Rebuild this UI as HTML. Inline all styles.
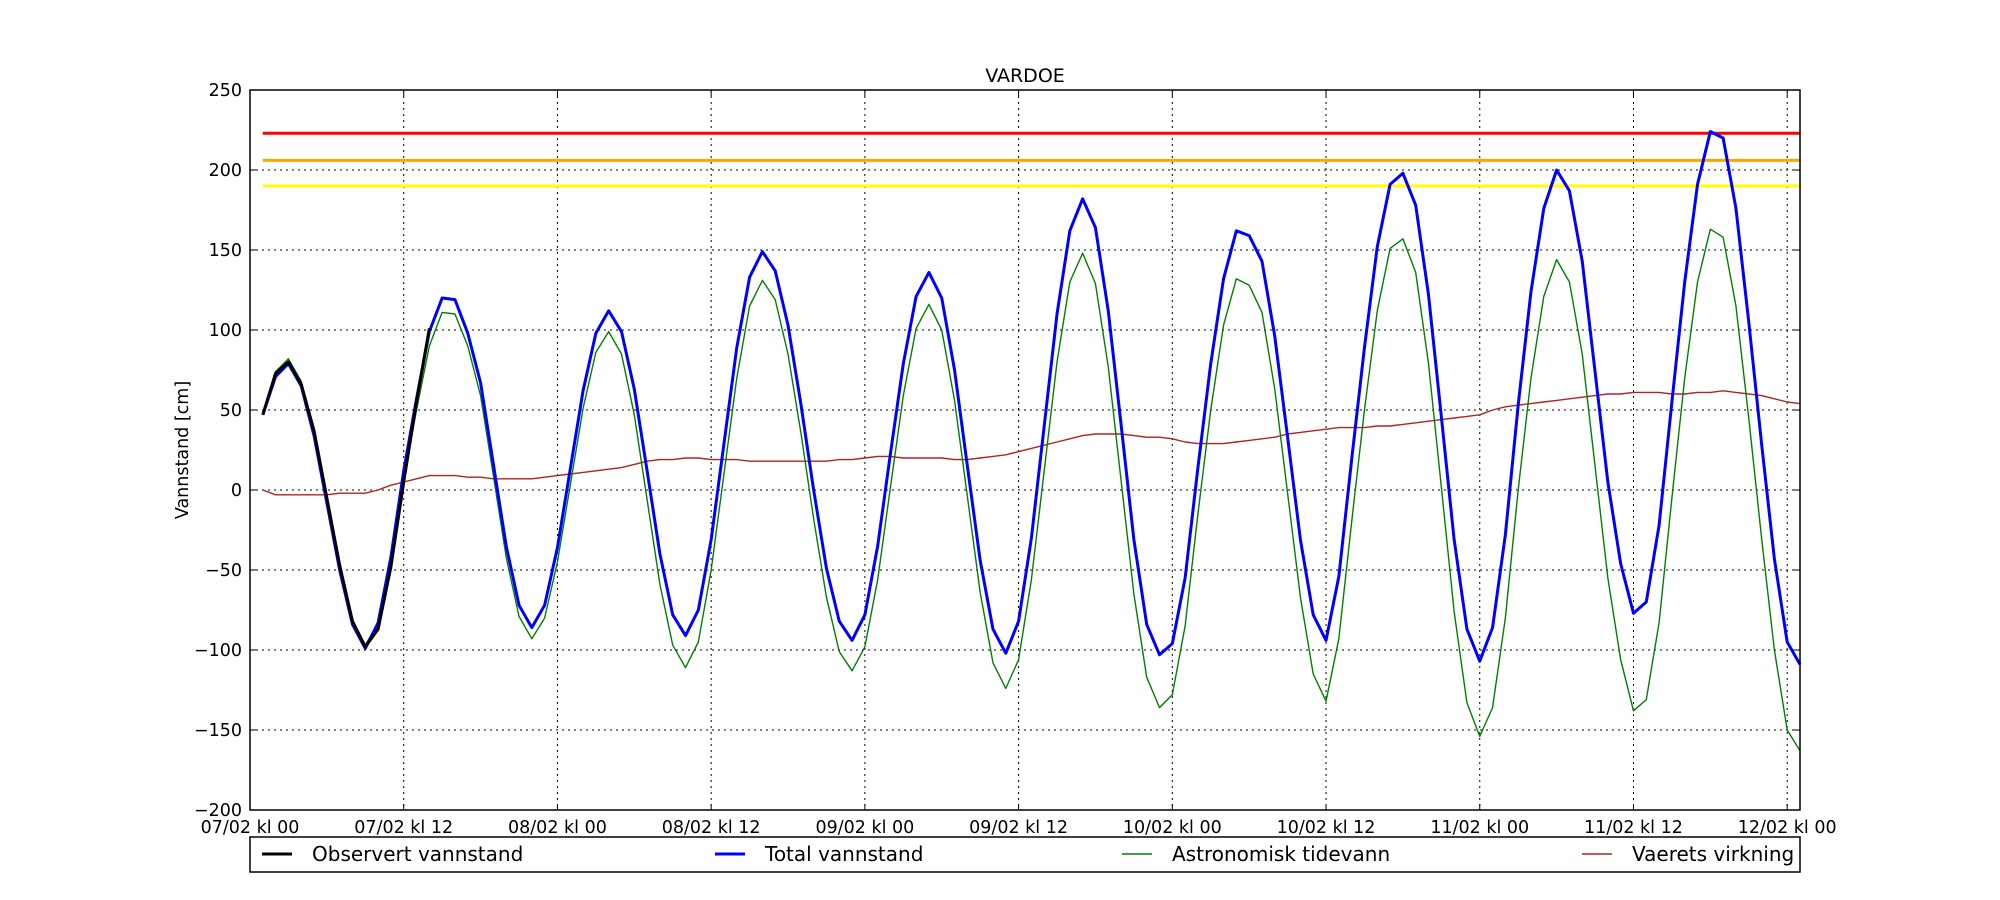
<!DOCTYPE html>
<html><head><meta charset="utf-8"><style>
body{margin:0;background:#fff;}
svg{display:block;font-family:"DejaVu Sans","Liberation Sans",sans-serif;}
</style></head><body>
<svg id="chart" width="2000" height="900" viewBox="0 0 2000 900"></svg>
<script>
const xTickLabels=["07/02 kl 00","07/02 kl 12","08/02 kl 00","08/02 kl 12","09/02 kl 00","09/02 kl 12","10/02 kl 00","10/02 kl 12","11/02 kl 00","11/02 kl 12","12/02 kl 00"];
const xTickHours=[0,12,24,36,48,60,72,84,96,108,120];
const yTicks=[250,200,150,100,50,0,-50,-100,-150,-200];
const thresholds=[223,206,190];
const thresholdColors=["#ff0000","#ffa500","#ffff00"];
const astro=[47,74,82,68,37,-5,-48,-82,-97,-83,-45,7,50,90,111,110,90,59,9,-42,-79,-93,-80,-45,3,51,86,99,85,47,-6,-59,-97,-111,-95,-50,10,70,115,131,119,85,36,-18,-67,-101,-113,-98,-56,2,59,101,116,100,56,-4,-64,-108,-124,-106,-56,12,80,130,148,129,77,6,-65,-117,-136,-128,-85,-15,50,103,132,128,111,63,-2,-67,-115,-132,-93,-20,50,112,151,157,136,79,2,-76,-133,-154,-136,-80,0,70,121,144,130,85,15,-55,-106,-138,-131,-83,-5,70,130,163,158,115,45,-30,-100,-150,-163];
const weather=[0,-3,-3,-3,-3,-3,-2,-2,-2,0,3,5,7,9,9,9,8,8,7,7,7,7,8,9,10,11,12,13,14,16,18,19,19,20,20,19,19,19,18,18,18,18,18,18,18,19,19,20,21,21,20,20,20,20,19,19,20,21,22,24,26,28,30,32,34,35,35,35,34,33,33,32,30,29,29,29,30,31,32,33,35,36,37,38,39,39,39,40,40,41,42,43,44,45,46,47,50,52,53,54,55,56,57,58,59,60,60,61,61,61,60,60,61,61,62,61,60,59,57,55,54];
const total=[47,71,79,65,34,-8,-50,-84,-99,-83,-42,12,57,99,120,119,98,67,16,-35,-72,-86,-72,-36,13,62,98,112,99,63,12,-40,-78,-91,-75,-31,29,89,133,149,137,103,54,0,-49,-82,-94,-78,-35,23,79,121,136,120,75,15,-44,-87,-102,-82,-30,40,110,162,182,164,112,41,-31,-84,-103,-96,-55,14,79,132,162,159,143,96,33,-31,-78,-94,-54,19,89,152,191,198,178,122,46,-31,-87,-107,-86,-28,53,124,176,200,187,143,74,5,-46,-77,-70,-22,55,130,191,224,220,176,105,29,-43,-95,-109];
const observed=[47,73,80,66,37,-5,-47,-82,-98,-87,-48,5,55,101];

const L=250,R=1800,T=90,B=810;
const X=h=>L+h*(R-L)/121;
const Y=v=>T+(250-v)*(B-T)/450;
const NS="http://www.w3.org/2000/svg";
const svg=document.getElementById('chart');
function mk(tag,attrs,parent){const e=document.createElementNS(NS,tag);for(const k in attrs)e.setAttribute(k,attrs[k]);(parent||svg).appendChild(e);return e;}

const grid=mk('g',{});


xTickHours.forEach((h,i)=>{
  const x=X(h);
  if(h>0){const g=mk('line',{x1:x,x2:x,y1:T,y2:B,stroke:'#000','stroke-width':1,'stroke-dasharray':'2,4'},grid);}
  mk('line',{x1:x,x2:x,y1:B,y2:B-6,stroke:'#000'},grid);
  mk('line',{x1:x,x2:x,y1:T,y2:T+6,stroke:'#000'},grid);
  const t=mk('text',{x:x,y:B+23,'text-anchor':'middle','font-size':17.5});
  
  
  t.textContent=xTickLabels[i];
});
yTicks.forEach(v=>{
  const y=Y(v);
  if(v<250&&v>-200)mk('line',{x1:L,x2:R,y1:y,y2:y,stroke:'#000','stroke-width':1,'stroke-dasharray':'2,4'},grid);
  mk('line',{x1:L,x2:L+6,y1:y,y2:y,stroke:'#000'},grid);
  mk('line',{x1:R,x2:R-6,y1:y,y2:y,stroke:'#000'},grid);
  const t=mk('text',{x:L-8,y:y+6,'text-anchor':'end','font-size':17.5});
  
  
  t.textContent=(v<0?'\u2212'+(-v):v);
});
thresholds.forEach((v,i)=>{
  const l=mk('line',{x1:X(1),x2:R,y1:Y(v),y2:Y(v),stroke:thresholdColors[i],'stroke-width':3});
  
  
});
function series(arr,color,w,name){
  const pts=arr.map((v,i)=>X(i+1).toFixed(2)+','+Y(v).toFixed(2)).join(' ');
  const p=mk('polyline',{points:pts,fill:'none',stroke:color,'stroke-width':w,'stroke-linejoin':'round'});
  
  
}
series(weather,'#b22222',1.4,'weather-effect-line');
series(astro,'#008000',1.4,'astronomical-tide-line');
series(total,'#0000ff',3,'total-water-level-line');
series(observed,'#000000',3,'observed-water-level-line');
const frame=mk('rect',{x:L,y:T,width:R-L,height:B-T,fill:'none',stroke:'#000','stroke-width':1.5});


const title=mk('text',{x:(L+R)/2,y:T-8,'text-anchor':'middle','font-size':19});


title.textContent='VARDOE';
const yt=mk('text',{x:188,y:(T+B)/2,'text-anchor':'middle','font-size':17.5,transform:'rotate(-90 188 '+((T+B)/2)+')'});


yt.textContent='Vannstand [cm]';
const lg=mk('g',{});


mk('rect',{x:L,y:837,width:R-L,height:35,fill:'#fff',stroke:'#000','stroke-width':1.5},lg);
const legendNames=["Observert vannstand","Total vannstand","Astronomisk tidevann","Vaerets virkning"];
const legendColors=["#000","#0000ff","#008000","#b22222"];
const legendWidths=[3,3,1.4,1.4];
const legendX=[262,715,1122,1582];
legendNames.forEach((n,i)=>{
  const g=mk('g',{},lg);
  
  
  mk('line',{x1:legendX[i],x2:legendX[i]+30,y1:854,y2:854,stroke:legendColors[i],'stroke-width':legendWidths[i]},g);
  const t=mk('text',{x:legendX[i]+50,y:861,'font-size':20},g);
  t.textContent=n;
});
</script>
</body></html>
